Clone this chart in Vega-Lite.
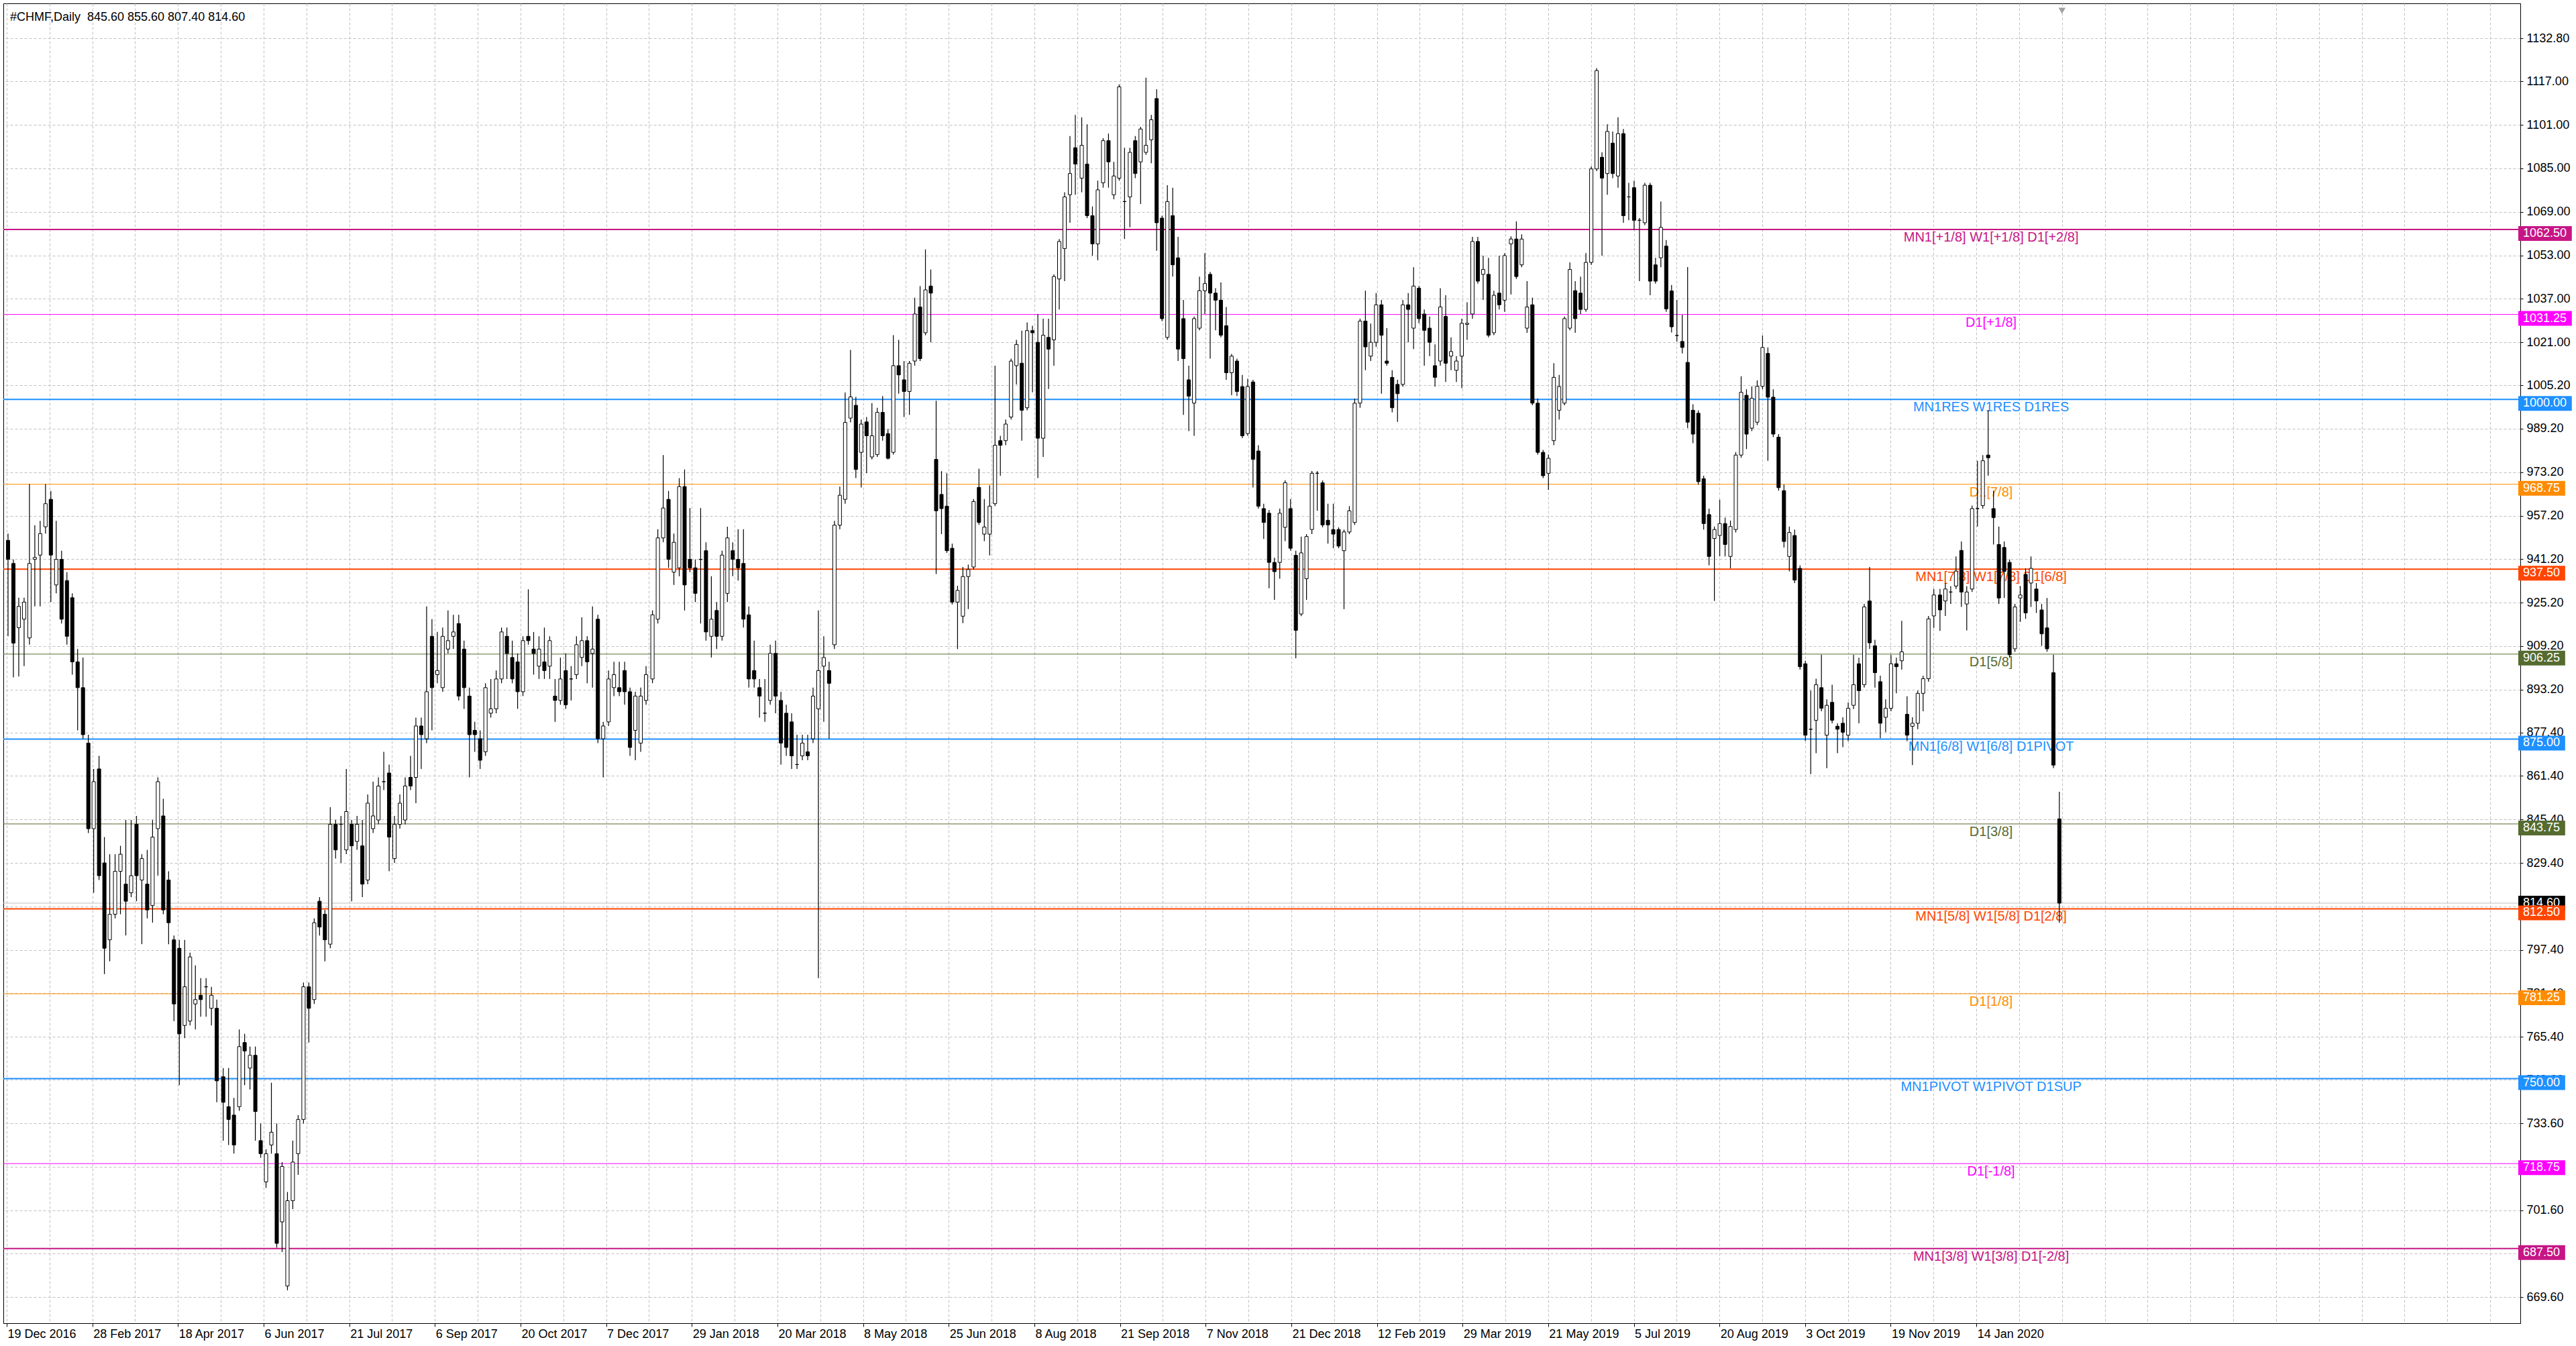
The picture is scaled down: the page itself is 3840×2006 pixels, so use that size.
{
  "$schema": "https://vega.github.io/schema/vega-lite/v6.json",
  "width": 3752,
  "height": 1967,
  "autosize": {"type": "none"},
  "padding": {"left": 5, "top": 5, "right": 83, "bottom": 34},
  "background": "white",
  "config": {
    "view": {"stroke": "black", "strokeWidth": 1},
    "axis": {"labelFont": "Liberation Sans", "labelFontSize": 18, "labelColor": "black", "tickColor": "black", "domainColor": "black", "gridColor": "#c0c0c0", "gridDash": [4, 3], "gridWidth": 1}
  },
  "datasets": {
    "levels": [
      {"p": 1062.5, "lv": "+2/8", "t": "MN1[+1/8] W1[+1/8] D1[+2/8]"},
      {"p": 1031.25, "lv": "+1/8", "t": "D1[+1/8]"},
      {"p": 1000, "lv": "8/8", "t": "MN1RES W1RES D1RES"},
      {"p": 968.75, "lv": "7/8", "t": "D1[7/8]"},
      {"p": 937.5, "lv": "6/8", "t": "MN1[7/8] W1[7/8] D1[6/8]"},
      {"p": 906.25, "lv": "5/8", "t": "D1[5/8]"},
      {"p": 875, "lv": "4/8", "t": "MN1[6/8] W1[6/8] D1PIVOT"},
      {"p": 843.75, "lv": "3/8", "t": "D1[3/8]"},
      {"p": 812.5, "lv": "2/8", "t": "MN1[5/8] W1[5/8] D1[2/8]"},
      {"p": 781.25, "lv": "1/8", "t": "D1[1/8]"},
      {"p": 750, "lv": "0/8", "t": "MN1PIVOT W1PIVOT D1SUP"},
      {"p": 718.75, "lv": "-1/8", "t": "D1[-1/8]"},
      {"p": 687.5, "lv": "-2/8", "t": "MN1[3/8] W1[3/8] D1[-2/8]"}
    ],
    "bars": [
      {"i":0.5,"o":948.1,"h":950.6,"l":912.8,"c":941.1},{"i":2.5,"o":939.6,"h":941.1,"l":897.7,"c":910.3},{"i":4.5,"o":916.0,"h":927.0,"l":898.0,"c":923.8},{"i":6.5,"o":919.1,"h":927.0,"l":901.8,"c":925.4},
      {"i":8.5,"o":912.2,"h":968.8,"l":909.7,"c":939.6},{"i":10.5,"o":941.1,"h":953.7,"l":923.8,"c":941.8},{"i":12.5,"o":942.7,"h":955.3,"l":923.8,"c":950.6},{"i":14.5,"o":953.1,"h":968.8,"l":950.6,"c":961.6},
      {"i":16.5,"o":963.2,"h":966.3,"l":925.4,"c":942.7},{"i":18.5,"o":931.7,"h":955.3,"l":928.6,"c":941.1},{"i":20.5,"o":941.1,"h":944.3,"l":917.5,"c":919.1},{"i":22.5,"o":933.3,"h":936.4,"l":909.7,"c":912.8},
      {"i":24.5,"o":927.0,"h":928.6,"l":898.7,"c":903.4},{"i":26.5,"o":903.4,"h":908.1,"l":878.2,"c":893.9},{"i":28.5,"o":893.9,"h":905.0,"l":875.1,"c":876.6},{"i":30.5,"o":873.5,"h":876.6,"l":840.4,"c":842.0},
      {"i":32.5,"o":842.0,"h":864.0,"l":818.4,"c":859.3},{"i":34.5,"o":864.0,"h":868.8,"l":823.1,"c":824.7},{"i":36.5,"o":829.4,"h":838.9,"l":788.5,"c":798.0},{"i":38.5,"o":801.1,"h":832.6,"l":793.2,"c":810.5},
      {"i":40.5,"o":810.5,"h":832.6,"l":809.0,"c":826.3},{"i":42.5,"o":826.3,"h":835.7,"l":810.5,"c":832.6},{"i":44.5,"o":821.6,"h":845.2,"l":802.7,"c":815.3},{"i":46.5,"o":818.4,"h":845.2,"l":816.8,"c":824.7},
      {"i":48.5,"o":843.6,"h":846.7,"l":815.3,"c":824.7},{"i":50.5,"o":823.1,"h":832.6,"l":799.5,"c":831.0},{"i":52.5,"o":821.6,"h":834.2,"l":809.0,"c":812.1},{"i":54.5,"o":813.7,"h":845.2,"l":807.4,"c":838.9},
      {"i":56.5,"o":842.0,"h":860.9,"l":824.7,"c":859.3},{"i":58.5,"o":846.7,"h":853.0,"l":810.5,"c":812.1},{"i":60.5,"o":823.1,"h":826.3,"l":799.5,"c":807.4},{"i":62.5,"o":801.1,"h":802.7,"l":771.2,"c":777.5},
      {"i":64.5,"o":798.0,"h":801.1,"l":747.6,"c":766.5},{"i":66.5,"o":769.6,"h":801.1,"l":764.9,"c":783.8},{"i":68.5,"o":771.2,"h":796.4,"l":769.6,"c":794.8},{"i":70.5,"o":777.5,"h":791.7,"l":768.1,"c":779.1},
      {"i":72.5,"o":780.7,"h":787.0,"l":772.8,"c":779.1},{"i":74.5,"o":783.8,"h":787.0,"l":772.8,"c":783.8},{"i":76.5,"o":775.9,"h":783.8,"l":769.6,"c":780.7},{"i":78.5,"o":775.9,"h":779.1,"l":741.3,"c":749.2},
      {"i":80.9,"o":750.7,"h":753.9,"l":727.2,"c":741.3},{"i":82.9,"o":739.7,"h":753.9,"l":725.6,"c":735.0},{"i":84.9,"o":736.6,"h":742.9,"l":722.4,"c":725.6},{"i":86.9,"o":739.7,"h":768.1,"l":738.2,"c":761.8},
      {"i":88.9,"o":763.3,"h":766.5,"l":747.6,"c":760.2},{"i":90.9,"o":753.9,"h":761.8,"l":746.0,"c":758.6},{"i":92.9,"o":758.6,"h":761.8,"l":727.2,"c":737.9},{"i":94.9,"o":727.2,"h":733.5,"l":720.9,"c":722.4},
      {"i":96.9,"o":712.0,"h":724.0,"l":709.8,"c":722.4},{"i":98.9,"o":725.6,"h":748.5,"l":722.4,"c":730.3},{"i":100.9,"o":722.4,"h":733.5,"l":687.8,"c":689.4},{"i":102.9,"o":697.3,"h":719.3,"l":686.2,"c":717.7},
      {"i":104.9,"o":673.7,"h":708.3,"l":672.1,"c":705.1},{"i":106.9,"o":705.1,"h":727.2,"l":702.0,"c":719.3},{"i":108.9,"o":722.4,"h":736.6,"l":714.6,"c":735.0},{"i":110.9,"o":735.0,"h":785.4,"l":733.5,"c":783.8},
      {"i":112.9,"o":783.8,"h":785.4,"l":763.3,"c":775.9},{"i":114.9,"o":779.1,"h":809.0,"l":777.5,"c":807.4},{"i":116.9,"o":815.3,"h":816.8,"l":802.7,"c":805.8},{"i":118.9,"o":810.5,"h":812.1,"l":793.2,"c":801.1},
      {"i":120.9,"o":799.5,"h":849.9,"l":798.0,"c":843.6},{"i":122.9,"o":843.6,"h":845.2,"l":831.0,"c":834.2},{"i":124.9,"o":843.6,"h":846.7,"l":829.4,"c":843.6},{"i":126.9,"o":834.2,"h":864.0,"l":832.6,"c":848.3},
      {"i":128.9,"o":843.6,"h":845.2,"l":815.3,"c":835.7},{"i":130.9,"o":837.3,"h":846.7,"l":834.2,"c":843.6},{"i":132.9,"o":835.7,"h":845.2,"l":816.8,"c":821.6},{"i":134.9,"o":823.1,"h":854.6,"l":821.6,"c":851.4},
      {"i":136.9,"o":842.0,"h":859.3,"l":840.4,"c":846.7},{"i":138.9,"o":845.2,"h":860.9,"l":843.6,"c":857.7},{"i":140.9,"o":859.3,"h":870.3,"l":856.2,"c":859.3},{"i":142.9,"o":862.5,"h":865.6,"l":826.3,"c":838.9},
      {"i":144.9,"o":831.0,"h":846.7,"l":829.4,"c":843.6},{"i":146.9,"o":843.6,"h":854.6,"l":842.0,"c":851.4},{"i":148.9,"o":845.2,"h":860.9,"l":843.6,"c":857.7},{"i":150.9,"o":860.9,"h":868.8,"l":856.2,"c":857.7},
      {"i":152.9,"o":860.9,"h":882.9,"l":851.4,"c":879.8},{"i":154.9,"o":879.8,"h":882.9,"l":864.0,"c":876.6},{"i":156.9,"o":875.1,"h":923.8,"l":873.5,"c":892.4},{"i":158.9,"o":912.8,"h":919.1,"l":878.2,"c":893.9},
      {"i":160.9,"o":898.7,"h":914.4,"l":895.5,"c":900.2},{"i":162.9,"o":893.9,"h":916.0,"l":892.4,"c":912.8},{"i":164.9,"o":908.1,"h":922.3,"l":906.5,"c":911.2},{"i":166.9,"o":912.8,"h":920.7,"l":908.1,"c":914.4},
      {"i":168.9,"o":917.5,"h":920.7,"l":889.2,"c":890.8},{"i":170.9,"o":908.1,"h":911.2,"l":886.1,"c":893.9},{"i":172.9,"o":890.8,"h":893.9,"l":860.9,"c":876.6},{"i":174.9,"o":878.2,"h":881.3,"l":870.3,"c":876.6},
      {"i":176.9,"o":875.1,"h":878.2,"l":864.0,"c":867.2},{"i":178.9,"o":870.3,"h":895.5,"l":868.8,"c":893.9},{"i":180.9,"o":884.5,"h":897.1,"l":882.9,"c":886.1},{"i":182.9,"o":886.1,"h":900.2,"l":884.5,"c":897.1},
      {"i":184.9,"o":897.1,"h":916.0,"l":895.5,"c":914.4},{"i":186.9,"o":912.8,"h":916.0,"l":897.1,"c":906.5},{"i":188.9,"o":905.0,"h":911.2,"l":895.5,"c":897.1},{"i":190.9,"o":903.4,"h":906.5,"l":886.1,"c":892.4},
      {"i":192.9,"o":892.4,"h":912.8,"l":890.8,"c":911.2},{"i":194.9,"o":912.8,"h":930.1,"l":909.7,"c":911.2},{"i":196.9,"o":908.1,"h":914.4,"l":898.7,"c":906.5},{"i":198.9,"o":901.8,"h":912.8,"l":897.1,"c":908.1},
      {"i":200.9,"o":903.4,"h":916.0,"l":897.1,"c":900.2},{"i":202.9,"o":901.8,"h":912.8,"l":897.1,"c":911.2},{"i":204.9,"o":890.8,"h":897.1,"l":881.3,"c":889.2},{"i":206.9,"o":889.2,"h":905.0,"l":887.6,"c":897.1},
      {"i":208.9,"o":900.2,"h":906.5,"l":886.1,"c":887.6},{"i":210.9,"o":897.1,"h":901.8,"l":889.2,"c":897.1},{"i":212.9,"o":898.7,"h":912.8,"l":897.1,"c":909.7},{"i":214.9,"o":905.0,"h":919.8,"l":901.8,"c":911.2},
      {"i":216.9,"o":911.2,"h":912.8,"l":895.5,"c":903.4},{"i":218.9,"o":906.5,"h":923.8,"l":893.9,"c":908.1},{"i":220.9,"o":919.1,"h":920.7,"l":873.5,"c":875.1},{"i":222.9,"o":875.1,"h":881.3,"l":860.9,"c":879.8},
      {"i":224.9,"o":881.3,"h":900.2,"l":879.8,"c":897.1},{"i":226.9,"o":893.9,"h":903.4,"l":890.8,"c":898.7},{"i":228.9,"o":893.9,"h":903.4,"l":890.8,"c":892.4},{"i":230.9,"o":900.2,"h":903.4,"l":887.6,"c":892.4},
      {"i":232.9,"o":892.4,"h":893.9,"l":868.8,"c":871.9},{"i":234.9,"o":878.2,"h":892.4,"l":867.2,"c":890.8},{"i":236.9,"o":873.5,"h":893.9,"l":870.3,"c":890.8},{"i":238.9,"o":889.2,"h":901.8,"l":887.6,"c":898.7},
      {"i":241.3,"o":897.1,"h":922.3,"l":895.5,"c":920.7},{"i":243.3,"o":919.1,"h":952.2,"l":917.5,"c":949.0},{"i":245.3,"o":949.0,"h":979.5,"l":947.4,"c":960.0},{"i":247.3,"o":963.2,"h":966.3,"l":938.0,"c":941.1},
      {"i":249.3,"o":936.4,"h":950.6,"l":931.7,"c":947.4},{"i":251.3,"o":938.0,"h":971.0,"l":934.9,"c":967.9},{"i":253.3,"o":967.9,"h":974.2,"l":922.3,"c":931.7},{"i":255.3,"o":941.1,"h":960.0,"l":936.4,"c":938.0},
      {"i":257.3,"o":938.0,"h":941.1,"l":925.4,"c":928.6},{"i":259.3,"o":941.1,"h":960.0,"l":917.5,"c":941.1},{"i":261.3,"o":944.3,"h":947.4,"l":911.2,"c":914.4},{"i":263.3,"o":912.8,"h":934.9,"l":905.0,"c":919.1},
      {"i":265.3,"o":922.3,"h":925.4,"l":908.1,"c":912.8},{"i":267.3,"o":912.8,"h":944.3,"l":911.2,"c":942.7},{"i":269.3,"o":928.6,"h":953.1,"l":925.4,"c":949.0},{"i":271.3,"o":944.3,"h":947.4,"l":934.9,"c":941.1},
      {"i":273.3,"o":941.1,"h":952.2,"l":933.3,"c":938.0},{"i":275.3,"o":939.6,"h":952.2,"l":916.0,"c":919.1},{"i":277.3,"o":920.7,"h":923.8,"l":893.9,"c":897.1},{"i":279.3,"o":900.2,"h":911.2,"l":893.9,"c":897.1},
      {"i":281.3,"o":893.9,"h":897.1,"l":882.9,"c":890.8},{"i":283.3,"o":884.5,"h":897.1,"l":881.3,"c":884.5},{"i":285.3,"o":889.2,"h":909.7,"l":887.6,"c":906.5},{"i":287.3,"o":906.5,"h":911.2,"l":884.5,"c":890.8},
      {"i":289.3,"o":889.2,"h":892.4,"l":865.6,"c":873.5},{"i":291.3,"o":884.5,"h":887.6,"l":868.8,"c":871.9},{"i":293.3,"o":881.3,"h":884.5,"l":864.0,"c":868.8},{"i":295.3,"o":865.6,"h":876.6,"l":864.0,"c":865.6},
      {"i":297.3,"o":868.8,"h":876.6,"l":867.2,"c":873.5},{"i":299.3,"o":870.3,"h":876.6,"l":867.2,"c":868.8},{"i":301.3,"o":875.1,"h":893.9,"l":873.5,"c":890.8},{"i":303.3,"o":886.1,"h":922.3,"l":787.0,"c":900.2},
      {"i":305.3,"o":901.8,"h":912.8,"l":881.3,"c":905.0},{"i":307.3,"o":900.2,"h":903.4,"l":875.1,"c":895.5},{"i":309.3,"o":909.7,"h":955.3,"l":908.1,"c":953.7},{"i":311.3,"o":953.7,"h":967.9,"l":952.2,"c":964.7},
      {"i":313.3,"o":963.2,"h":1002.5,"l":961.6,"c":991.5},{"i":315.3,"o":993.1,"h":1018.2,"l":991.5,"c":1000.9},{"i":317.3,"o":997.8,"h":1000.9,"l":971.0,"c":974.2},{"i":319.3,"o":980.5,"h":992.6,"l":967.6,"c":990.9},
      {"i":321.3,"o":991.7,"h":993.5,"l":972.8,"c":986.6},{"i":323.3,"o":978.8,"h":998.6,"l":977.9,"c":986.6},{"i":325.3,"o":979.7,"h":996.9,"l":978.8,"c":995.2},{"i":327.3,"o":995.2,"h":1001.2,"l":984.8,"c":986.6},
      {"i":329.3,"o":987.4,"h":989.1,"l":977.9,"c":978.3},{"i":331.3,"o":980.5,"h":1023.6,"l":979.7,"c":1012.4},{"i":333.3,"o":1012.4,"h":1021.9,"l":1002.1,"c":1009.0},{"i":335.3,"o":1007.2,"h":1014.1,"l":993.5,"c":1002.9},
      {"i":337.3,"o":1002.9,"h":1014.1,"l":994.3,"c":1013.3},{"i":339.3,"o":1014.1,"h":1037.4,"l":1012.4,"c":1031.4},{"i":341.3,"o":1034.0,"h":1041.7,"l":1014.1,"c":1015.0},{"i":343.3,"o":1024.5,"h":1055.2,"l":1023.6,"c":1040.3},
      {"i":345.3,"o":1041.7,"h":1047.8,"l":1021.0,"c":1039.1},{"i":347.3,"o":977.9,"h":999.5,"l":935.7,"c":959.0},{"i":349.3,"o":965.0,"h":973.6,"l":950.4,"c":959.8},{"i":351.3,"o":960.7,"h":972.8,"l":943.5,"c":944.3},
      {"i":353.3,"o":945.2,"h":946.9,"l":924.5,"c":925.4},{"i":355.3,"o":925.4,"h":931.4,"l":908.1,"c":929.7},{"i":357.3,"o":920.2,"h":938.3,"l":917.6,"c":934.8},{"i":359.3,"o":934.8,"h":939.2,"l":922.8,"c":937.4},
      {"i":361.3,"o":938.3,"h":963.3,"l":937.4,"c":962.4},{"i":363.3,"o":967.6,"h":974.5,"l":953.8,"c":954.7},{"i":365.3,"o":950.4,"h":963.3,"l":947.8,"c":953.0},{"i":367.3,"o":950.4,"h":968.4,"l":942.6,"c":960.7},
      {"i":369.3,"o":961.6,"h":1012.4,"l":960.7,"c":983.1},{"i":371.3,"o":984.8,"h":986.6,"l":971.9,"c":983.1},{"i":373.3,"o":984.8,"h":992.6,"l":983.1,"c":990.9},{"i":375.3,"o":993.5,"h":1015.0,"l":992.6,"c":1014.1},
      {"i":377.3,"o":1012.4,"h":1021.9,"l":1005.5,"c":1020.2},{"i":379.3,"o":1013.3,"h":1025.3,"l":984.8,"c":996.0},{"i":381.3,"o":996.9,"h":1028.3,"l":996.0,"c":1025.3},{"i":383.3,"o":1025.3,"h":1027.1,"l":1002.6,"c":1024.5},
      {"i":385.3,"o":1021.0,"h":1031.4,"l":971.0,"c":985.7},{"i":387.3,"o":985.7,"h":1029.7,"l":978.8,"c":1023.6},{"i":389.3,"o":1022.8,"h":1029.7,"l":1003.8,"c":1018.5},{"i":391.3,"o":1021.9,"h":1046.0,"l":1012.4,"c":1045.2},
      {"i":393.3,"o":1044.3,"h":1059.0,"l":1033.1,"c":1058.1},{"i":395.3,"o":1055.5,"h":1076.2,"l":1043.5,"c":1074.5},{"i":397.3,"o":1075.3,"h":1096.9,"l":1065.0,"c":1083.1},{"i":399.3,"o":1092.6,"h":1104.7,"l":1075.3,"c":1086.6},
      {"i":401.7,"o":1081.4,"h":1103.8,"l":1076.2,"c":1093.5},{"i":403.7,"o":1086.6,"h":1101.2,"l":1066.7,"c":1067.6},{"i":405.7,"o":1067.6,"h":1071.0,"l":1052.9,"c":1057.2},{"i":407.7,"o":1057.2,"h":1080.5,"l":1051.2,"c":1077.1},
      {"i":409.7,"o":1079.7,"h":1096.1,"l":1077.9,"c":1095.2},{"i":411.7,"o":1095.2,"h":1097.8,"l":1077.9,"c":1087.4},{"i":413.7,"o":1075.3,"h":1087.4,"l":1073.6,"c":1082.2},{"i":415.7,"o":1081.4,"h":1115.9,"l":1080.5,"c":1115.0},
      {"i":417.7,"o":1072.8,"h":1092.6,"l":1059.0,"c":1072.8},{"i":419.7,"o":1074.5,"h":1092.6,"l":1063.3,"c":1090.9},{"i":421.7,"o":1095.2,"h":1096.9,"l":1081.4,"c":1083.1},{"i":423.7,"o":1087.4,"h":1100.3,"l":1071.9,"c":1099.5},
      {"i":425.7,"o":1090.9,"h":1118.4,"l":1090.0,"c":1093.5},{"i":427.7,"o":1095.5,"h":1104.7,"l":1086.9,"c":1102.9},{"i":429.7,"o":1110.7,"h":1114.1,"l":1054.7,"c":1065.0},{"i":431.7,"o":1066.7,"h":1067.6,"l":1028.8,"c":1029.7},
      {"i":433.7,"o":1022.8,"h":1078.8,"l":1021.9,"c":1072.8},{"i":435.7,"o":1067.6,"h":1077.9,"l":1045.2,"c":1049.5},{"i":437.7,"o":1052.1,"h":1059.8,"l":1014.1,"c":1018.5},{"i":439.7,"o":1029.7,"h":1036.6,"l":994.3,"c":1015.0},
      {"i":441.7,"o":1007.2,"h":1012.4,"l":988.3,"c":1001.2},{"i":443.7,"o":998.6,"h":1030.5,"l":986.6,"c":1029.7},{"i":445.7,"o":1026.2,"h":1045.2,"l":1025.4,"c":1040.0},{"i":447.7,"o":1040.0,"h":1053.8,"l":1031.4,"c":1042.6},
      {"i":449.7,"o":1046.0,"h":1046.9,"l":1015.0,"c":1039.1},{"i":451.7,"o":1039.1,"h":1040.9,"l":1025.4,"c":1036.5},{"i":453.7,"o":1036.5,"h":1043.1,"l":1022.8,"c":1023.6},{"i":455.7,"o":1027.1,"h":1034.0,"l":1007.2,"c":1009.8},
      {"i":457.7,"o":1009.8,"h":1016.7,"l":1001.5,"c":1015.9},{"i":459.7,"o":1014.1,"h":1015.0,"l":1001.2,"c":1002.9},{"i":461.7,"o":1004.7,"h":1009.0,"l":985.7,"c":986.6},{"i":463.7,"o":987.4,"h":1007.6,"l":986.6,"c":1004.7},
      {"i":465.7,"o":1006.4,"h":1007.2,"l":967.6,"c":977.9},{"i":467.7,"o":981.0,"h":983.1,"l":959.8,"c":960.7},{"i":469.7,"o":959.8,"h":961.6,"l":948.6,"c":954.7},{"i":471.7,"o":958.1,"h":959.3,"l":930.5,"c":940.0},
      {"i":473.7,"o":940.0,"h":941.7,"l":926.2,"c":936.6},{"i":475.7,"o":940.0,"h":959.8,"l":934.0,"c":958.1},{"i":477.7,"o":952.9,"h":970.2,"l":947.8,"c":969.3},{"i":479.7,"o":959.8,"h":963.3,"l":944.3,"c":945.2},
      {"i":481.7,"o":942.6,"h":944.3,"l":904.7,"c":915.0},{"i":483.7,"o":921.0,"h":949.5,"l":920.2,"c":943.5},{"i":485.7,"o":934.0,"h":950.4,"l":926.2,"c":949.5},{"i":487.7,"o":952.1,"h":973.6,"l":950.4,"c":972.8},
      {"i":489.7,"o":972.8,"h":973.6,"l":959.0,"c":972.8},{"i":491.7,"o":969.3,"h":970.2,"l":952.9,"c":953.8},{"i":493.7,"o":955.5,"h":961.6,"l":946.9,"c":953.8},{"i":495.7,"o":952.1,"h":961.6,"l":945.2,"c":950.4},
      {"i":497.7,"o":952.1,"h":952.9,"l":945.2,"c":946.0},{"i":499.7,"o":944.3,"h":952.1,"l":922.8,"c":951.2},{"i":501.7,"o":951.2,"h":960.7,"l":950.4,"c":959.0},{"i":503.7,"o":954.7,"h":1000.3,"l":953.8,"c":998.6},
      {"i":505.7,"o":998.6,"h":1029.7,"l":996.9,"c":1028.8},{"i":507.7,"o":1028.8,"h":1040.0,"l":1010.7,"c":1019.3},{"i":509.7,"o":1015.9,"h":1027.9,"l":1014.1,"c":1021.0},{"i":511.7,"o":1021.0,"h":1039.1,"l":1019.3,"c":1034.8},
      {"i":513.7,"o":1034.8,"h":1036.6,"l":1002.1,"c":1023.6},{"i":515.7,"o":1014.1,"h":1026.2,"l":1012.4,"c":1013.3},{"i":517.7,"o":1008.1,"h":1010.7,"l":995.2,"c":996.9},{"i":519.7,"o":1005.5,"h":1007.2,"l":991.7,"c":1002.1},
      {"i":521.7,"o":1005.5,"h":1036.6,"l":1004.7,"c":1034.8},{"i":523.7,"o":1034.8,"h":1039.1,"l":1021.0,"c":1033.1},{"i":525.7,"o":1026.2,"h":1048.6,"l":1018.5,"c":1041.7},{"i":527.7,"o":1040.9,"h":1041.7,"l":1028.0,"c":1029.7},
      {"i":529.7,"o":1031.4,"h":1033.1,"l":1012.4,"c":1025.4},{"i":531.7,"o":1026.2,"h":1030.5,"l":1015.9,"c":1021.0},{"i":533.7,"o":1012.4,"h":1020.2,"l":1004.7,"c":1008.1},{"i":535.7,"o":1014.1,"h":1040.9,"l":1012.4,"c":1034.0},
      {"i":537.7,"o":1030.5,"h":1038.3,"l":1006.4,"c":1013.3},{"i":539.7,"o":1015.9,"h":1022.8,"l":1010.7,"c":1017.6},{"i":541.7,"o":1010.7,"h":1015.9,"l":1006.4,"c":1014.1},{"i":543.7,"o":1015.9,"h":1029.7,"l":1004.1,"c":1028.0},
      {"i":545.7,"o":1027.6,"h":1035.7,"l":1021.9,"c":1028.0},{"i":547.7,"o":1031.4,"h":1059.8,"l":1029.7,"c":1058.1},{"i":549.7,"o":1058.1,"h":1059.8,"l":1042.6,"c":1043.5},{"i":551.7,"o":1046.0,"h":1052.9,"l":1036.6,"c":1047.8},
      {"i":553.7,"o":1046.0,"h":1052.1,"l":1022.8,"c":1023.6},{"i":555.7,"o":1024.5,"h":1040.0,"l":1023.6,"c":1038.3},{"i":557.7,"o":1039.1,"h":1052.9,"l":1033.1,"c":1034.8},{"i":559.7,"o":1036.5,"h":1053.8,"l":1032.2,"c":1052.9},
      {"i":562.1,"o":1057.2,"h":1060.0,"l":1038.6,"c":1059.0},{"i":564.1,"o":1059.0,"h":1065.5,"l":1044.3,"c":1045.2},{"i":566.1,"o":1049.5,"h":1060.7,"l":1048.6,"c":1059.0},{"i":568.1,"o":1026.2,"h":1043.5,"l":1024.5,"c":1034.0},
      {"i":570.1,"o":1034.8,"h":1037.4,"l":997.8,"c":998.6},{"i":572.1,"o":998.6,"h":1000.3,"l":979.7,"c":980.5},{"i":574.1,"o":980.5,"h":981.4,"l":971.0,"c":971.9},{"i":576.1,"o":972.8,"h":979.7,"l":966.7,"c":978.3},
      {"i":578.1,"o":984.8,"h":1013.3,"l":983.1,"c":1008.1},{"i":580.1,"o":996.0,"h":1009.0,"l":992.6,"c":1004.7},{"i":582.1,"o":998.6,"h":1030.5,"l":997.8,"c":1029.7},{"i":584.1,"o":1026.2,"h":1050.4,"l":1025.4,"c":1047.8},
      {"i":586.1,"o":1040.0,"h":1043.5,"l":1024.5,"c":1029.7},{"i":588.1,"o":1039.1,"h":1045.2,"l":1031.4,"c":1033.1},{"i":590.1,"o":1033.1,"h":1053.8,"l":1032.2,"c":1050.4},{"i":592.1,"o":1050.4,"h":1085.7,"l":1049.5,"c":1084.8},
      {"i":594.1,"o":1084.8,"h":1121.9,"l":1084.0,"c":1121.0},{"i":596.1,"o":1089.1,"h":1090.9,"l":1052.9,"c":1081.4},{"i":598.1,"o":1083.1,"h":1101.2,"l":1075.3,"c":1098.6},{"i":600.1,"o":1094.3,"h":1098.6,"l":1081.4,"c":1083.1},
      {"i":602.1,"o":1082.2,"h":1103.8,"l":1077.9,"c":1097.8},{"i":604.1,"o":1097.8,"h":1099.5,"l":1065.0,"c":1067.6},{"i":606.1,"o":1074.5,"h":1079.7,"l":1065.9,"c":1074.5},{"i":608.1,"o":1077.9,"h":1080.5,"l":1062.4,"c":1065.9},
      {"i":610.1,"o":1065.9,"h":1066.7,"l":1043.5,"c":1065.9},{"i":612.1,"o":1065.0,"h":1079.7,"l":1064.1,"c":1078.8},{"i":614.1,"o":1078.8,"h":1079.7,"l":1038.3,"c":1043.5},{"i":616.1,"o":1049.5,"h":1052.1,"l":1042.6,"c":1043.5},
      {"i":618.1,"o":1052.1,"h":1072.8,"l":1048.6,"c":1063.3},{"i":620.1,"o":1056.4,"h":1058.6,"l":1032.2,"c":1033.3},{"i":622.1,"o":1039.9,"h":1042.1,"l":1024.6,"c":1026.7},{"i":624.1,"o":1023.5,"h":1036.6,"l":1021.3,"c":1023.5},
      {"i":626.1,"o":1021.3,"h":1031.1,"l":1016.9,"c":1019.1},{"i":628.1,"o":1013.6,"h":1048.7,"l":989.4,"c":991.6},{"i":630.1,"o":996.0,"h":998.2,"l":983.9,"c":987.2},{"i":632.1,"o":994.9,"h":996.0,"l":968.6,"c":969.7},
      {"i":634.1,"o":970.8,"h":971.9,"l":952.1,"c":954.3},{"i":636.1,"o":957.6,"h":959.8,"l":938.9,"c":942.2},{"i":638.1,"o":948.8,"h":953.2,"l":925.8,"c":952.1},{"i":640.1,"o":949.9,"h":963.1,"l":942.2,"c":954.3},
      {"i":642.1,"o":954.3,"h":956.5,"l":942.2,"c":946.6},{"i":644.1,"o":942.2,"h":955.4,"l":937.8,"c":953.2},{"i":646.1,"o":952.1,"h":980.6,"l":951.0,"c":979.5},{"i":648.1,"o":979.5,"h":1008.5,"l":978.5,"c":1002.6},
      {"i":650.1,"o":1001.5,"h":1003.7,"l":981.7,"c":987.2},{"i":652.1,"o":989.4,"h":1004.8,"l":988.3,"c":1000.4},{"i":654.1,"o":991.6,"h":1007.0,"l":990.5,"c":1004.8},{"i":656.1,"o":1004.8,"h":1023.5,"l":1003.7,"c":1019.1},
      {"i":658.1,"o":1016.9,"h":1019.1,"l":977.4,"c":1000.8},{"i":660.1,"o":1000.8,"h":1003.7,"l":986.1,"c":987.2},{"i":662.1,"o":986.1,"h":987.2,"l":966.4,"c":967.5},{"i":664.1,"o":966.4,"h":968.6,"l":945.5,"c":947.7},
      {"i":666.1,"o":942.2,"h":953.2,"l":936.7,"c":951.0},{"i":668.1,"o":949.9,"h":952.1,"l":932.4,"c":933.5},{"i":670.1,"o":937.8,"h":938.9,"l":900.5,"c":901.6},{"i":672.1,"o":902.7,"h":903.8,"l":874.3,"c":876.4},
      {"i":674.1,"o":878.6,"h":892.8,"l":862.1,"c":878.6},{"i":676.1,"o":881.9,"h":897.2,"l":869.8,"c":895.0},{"i":678.1,"o":893.9,"h":906.0,"l":885.2,"c":886.3},{"i":680.1,"o":876.4,"h":889.6,"l":864.3,"c":887.4},
      {"i":682.1,"o":888.5,"h":895.0,"l":880.8,"c":881.9},{"i":684.1,"o":879.7,"h":880.8,"l":869.8,"c":878.6},{"i":686.1,"o":880.8,"h":883.0,"l":872.0,"c":877.5},{"i":688.1,"o":876.4,"h":888.5,"l":874.2,"c":886.3},
      {"i":690.1,"o":887.4,"h":906.0,"l":886.0,"c":895.0},{"i":692.1,"o":902.7,"h":904.9,"l":880.8,"c":892.8},{"i":694.1,"o":895.0,"h":924.7,"l":893.9,"c":923.6},{"i":696.1,"o":925.8,"h":938.3,"l":908.2,"c":910.4},
      {"i":698.1,"o":909.3,"h":911.5,"l":893.9,"c":899.4},{"i":700.1,"o":896.1,"h":898.3,"l":875.3,"c":880.8},{"i":702.1,"o":883.0,"h":889.6,"l":877.5,"c":886.3},{"i":704.1,"o":886.3,"h":906.0,"l":885.2,"c":902.7},
      {"i":706.1,"o":902.7,"h":904.9,"l":891.8,"c":901.6},{"i":708.1,"o":903.8,"h":918.5,"l":900.5,"c":907.1},{"i":710.1,"o":884.1,"h":890.7,"l":874.2,"c":876.4},{"i":712.1,"o":879.7,"h":883.0,"l":865.4,"c":880.8},
      {"i":714.1,"o":880.8,"h":892.8,"l":878.6,"c":891.8},{"i":716.1,"o":891.8,"h":898.3,"l":885.2,"c":897.2},{"i":718.1,"o":897.2,"h":920.3,"l":896.1,"c":919.2},{"i":720.1,"o":920.3,"h":930.2,"l":915.9,"c":928.0},
      {"i":722.4,"o":928.0,"h":930.2,"l":914.8,"c":922.5},{"i":724.4,"o":925.8,"h":932.4,"l":920.3,"c":930.2},{"i":726.4,"o":929.1,"h":931.3,"l":924.7,"c":929.1},{"i":728.4,"o":931.3,"h":942.2,"l":930.2,"c":936.8},
      {"i":730.4,"o":944.4,"h":947.7,"l":923.6,"c":929.1},{"i":732.4,"o":924.7,"h":931.3,"l":915.0,"c":929.1},{"i":734.4,"o":930.2,"h":960.9,"l":929.1,"c":959.8},{"i":736.4,"o":959.8,"h":977.4,"l":953.2,"c":959.8},
      {"i":738.4,"o":960.9,"h":979.5,"l":959.8,"c":977.4},{"i":740.4,"o":979.5,"h":996.0,"l":971.9,"c":978.5},{"i":742.4,"o":959.8,"h":966.4,"l":946.6,"c":956.5},{"i":744.4,"o":946.6,"h":953.2,"l":924.7,"c":926.9},
      {"i":746.4,"o":945.5,"h":947.7,"l":926.9,"c":936.7},{"i":748.4,"o":940.0,"h":941.1,"l":904.9,"c":906.0},{"i":750.4,"o":908.2,"h":924.7,"l":907.1,"c":923.6},{"i":752.4,"o":926.9,"h":931.3,"l":918.1,"c":928.0},
      {"i":754.4,"o":935.6,"h":937.8,"l":919.2,"c":921.4},{"i":756.4,"o":932.4,"h":942.2,"l":923.6,"c":937.8},{"i":758.4,"o":930.2,"h":932.4,"l":921.4,"c":925.8},{"i":760.4,"o":922.5,"h":924.7,"l":909.3,"c":913.7},
      {"i":762.4,"o":915.9,"h":926.9,"l":907.1,"c":908.2},{"i":764.8,"o":899.4,"h":906.0,"l":864.3,"c":865.4},{"i":767.0,"o":845.6,"h":855.6,"l":807.4,"c":814.6}
    ]
  },
  "layer": [
    {
      "data": {"name": "levels"},
      "mark": {"type": "rule"},
      "encoding": {
        "y": {
          "field": "p", "type": "quantitative", "title": null,
          "scale": {"domain": [661.25, 1144.5], "nice": false, "zero": false},
          "axis": {
            "orient": "right", "title": null,
            "values": [669.6, 685.6, 701.6, 717.6, 733.6, 749.6, 765.4, 781.4, 797.4, 813.4, 829.4, 845.4, 861.4, 877.4, 893.2, 909.2, 925.2, 941.2, 957.2, 973.2, 989.2, 1005.2, 1021, 1037, 1053, 1069, 1085, 1101, 1117, 1132.8],
            "format": ".2f", "labelAlign": "left", "labelBaseline": "middle", "labelPadding": 5, "tickSize": 4,
            "labelOverlap": false, "labelFlush": false, "grid": true
          }
        },
        "color": {
          "field": "lv", "type": "nominal", "legend": null,
          "scale": {
            "domain": ["+2/8", "+1/8", "8/8", "7/8", "6/8", "5/8", "4/8", "3/8", "2/8", "1/8", "0/8", "-1/8", "-2/8"],
            "range": ["#c71585", "#ff00ff", "#1e90ff", "#ff8c00", "#ff4500", "#556b2f", "#1e90ff", "#556b2f", "#ff4500", "#ff8c00", "#1e90ff", "#ff00ff", "#c71585"]
          }
        },
        "strokeWidth": {"condition": {"test": "indexof(datum.t, 'MN1') >= 0", "value": 2}, "value": 1}
      }
    },
    {
      "data": {"values": [{"p": 814.6}]},
      "mark": {"type": "rule", "color": "#c0c0c0", "strokeWidth": 1},
      "encoding": {
        "y": {"field": "p", "type": "quantitative", "title": null, "scale": {"domain": [661.25, 1144.5], "nice": false, "zero": false}}
      }
    },
    {
      "data": {"name": "levels"},
      "mark": {"type": "text", "align": "center", "baseline": "middle", "dy": 12, "font": "Liberation Sans", "fontSize": 20},
      "encoding": {
        "x": {"datum": 741.5, "scale": {"domain": [0, 938], "nice": false, "zero": false}},
        "y": {"field": "p", "type": "quantitative", "title": null, "scale": {"domain": [661.25, 1144.5], "nice": false, "zero": false}},
        "text": {"field": "t"},
        "color": {"field": "lv", "type": "nominal", "legend": null}
      }
    },
    {
      "data": {"name": "bars"},
      "mark": {"type": "rule", "color": "black", "strokeWidth": 1.2, "clip": true},
      "encoding": {
        "x": {
          "field": "i", "type": "quantitative", "title": null,
          "scale": {"domain": [0, 938], "nice": false, "zero": false},
          "axis": {
            "orient": "bottom", "title": null,
            "values": [0, 16, 32, 48, 64, 80, 96, 112, 128, 144, 160, 176, 192, 208, 224, 240, 256, 272, 288, 304, 320, 336, 352, 368, 384, 400, 416, 432, 448, 464, 480, 496, 512, 528, 544, 560, 576, 592, 608, 624, 640, 656, 672, 688, 704, 720, 736, 752, 768, 784, 800, 816, 832, 848, 864, 880, 896, 912, 928],
            "labelExpr": "datum.value % 32 === 0 && datum.value <= 736 ? ['19 Dec 2016','28 Feb 2017','18 Apr 2017','6 Jun 2017','21 Jul 2017','6 Sep 2017','20 Oct 2017','7 Dec 2017','29 Jan 2018','20 Mar 2018','8 May 2018','25 Jun 2018','8 Aug 2018','21 Sep 2018','7 Nov 2018','21 Dec 2018','12 Feb 2019','29 Mar 2019','21 May 2019','5 Jul 2019','20 Aug 2019','3 Oct 2019','19 Nov 2019','14 Jan 2020'][datum.value / 32] : ''",
            "labelAlign": "left", "labelBaseline": "top", "labelPadding": 2, "labelOffset": 1, "tickSize": 5,
            "tickOpacity": {"condition": {"test": "datum.value % 32 === 0 && datum.value <= 736", "value": 1}, "value": 0},
            "labelOverlap": false, "labelFlush": false, "labelBound": false, "grid": true
          }
        },
        "y": {"field": "l", "type": "quantitative", "title": null, "scale": {"domain": [661.25, 1144.5], "nice": false, "zero": false}},
        "y2": {"field": "h"}
      }
    },
    {
      "data": {"name": "bars"},
      "mark": {"type": "bar", "orient": "vertical", "width": 5, "stroke": "black", "strokeWidth": 1, "clip": true},
      "encoding": {
        "x": {"field": "i", "type": "quantitative", "title": null, "scale": {"domain": [0, 938], "nice": false, "zero": false}},
        "y": {"field": "o", "type": "quantitative", "title": null, "scale": {"domain": [661.25, 1144.5], "nice": false, "zero": false}},
        "y2": {"field": "c"},
        "fill": {"condition": {"test": "datum.c < datum.o", "value": "black"}, "value": "white"}
      }
    },
    {
      "data": {"values": [{"t": "#CHMF,Daily\u00a0 845.60 855.60 807.40 814.60"}]},
      "mark": {"type": "text", "align": "left", "baseline": "middle", "font": "Liberation Sans", "fontSize": 18, "color": "black"},
      "encoding": {
        "x": {"datum": 1.25, "scale": {"domain": [0, 938], "nice": false, "zero": false}},
        "y": {"datum": 1140.6, "scale": {"domain": [661.25, 1144.5], "nice": false, "zero": false}},
        "text": {"field": "t"}
      }
    },
    {
      "data": {"values": [{"m": "shift"}]},
      "mark": {"type": "point", "shape": "triangle-down", "filled": true, "color": "#a0a0a0", "size": 110, "opacity": 1},
      "encoding": {
        "x": {"datum": 768, "scale": {"domain": [0, 938], "nice": false, "zero": false}},
        "y": {"datum": 1143, "scale": {"domain": [661.25, 1144.5], "nice": false, "zero": false}}
      }
    },
    {
      "data": {"values": [{"p": 814.6}]},
      "layer": [
        {
          "mark": {"type": "bar", "orient": "horizontal", "size": 22, "color": "black"},
          "encoding": {
            "x": {"datum": 938.5, "scale": {"domain": [0, 938], "nice": false, "zero": false}},
            "x2": {"datum": 956},
            "y": {"field": "p", "type": "quantitative", "title": null, "scale": {"domain": [661.25, 1144.5], "nice": false, "zero": false}}
          }
        },
        {
          "mark": {"type": "text", "align": "left", "baseline": "middle", "font": "Liberation Sans", "fontSize": 18, "color": "white"},
          "encoding": {
            "x": {"datum": 940.25, "scale": {"domain": [0, 938], "nice": false, "zero": false}},
            "y": {"field": "p", "type": "quantitative", "title": null, "scale": {"domain": [661.25, 1144.5], "nice": false, "zero": false}},
            "text": {"field": "p", "type": "quantitative", "format": ".2f"}
          }
        }
      ]
    },
    {
      "data": {"name": "levels"},
      "transform": [{"filter": "datum.p < 1000"}],
      "mark": {"type": "bar", "orient": "horizontal", "size": 22, "yOffset": 6},
      "encoding": {
        "x": {"datum": 938.5, "scale": {"domain": [0, 938], "nice": false, "zero": false}},
        "x2": {"datum": 956},
        "y": {"field": "p", "type": "quantitative", "title": null, "scale": {"domain": [661.25, 1144.5], "nice": false, "zero": false}},
        "color": {"field": "lv", "type": "nominal", "legend": null}
      }
    },
    {
      "data": {"name": "levels"},
      "transform": [{"filter": "datum.p >= 1000"}],
      "mark": {"type": "bar", "orient": "horizontal", "size": 22, "yOffset": 6},
      "encoding": {
        "x": {"datum": 938.5, "scale": {"domain": [0, 938], "nice": false, "zero": false}},
        "x2": {"datum": 958.5},
        "y": {"field": "p", "type": "quantitative", "title": null, "scale": {"domain": [661.25, 1144.5], "nice": false, "zero": false}},
        "color": {"field": "lv", "type": "nominal", "legend": null}
      }
    },
    {
      "data": {"name": "levels"},
      "mark": {"type": "text", "align": "left", "baseline": "middle", "yOffset": 6, "font": "Liberation Sans", "fontSize": 18, "color": "white"},
      "encoding": {
        "x": {"datum": 940.25, "scale": {"domain": [0, 938], "nice": false, "zero": false}},
        "y": {"field": "p", "type": "quantitative", "title": null, "scale": {"domain": [661.25, 1144.5], "nice": false, "zero": false}},
        "text": {"field": "p", "type": "quantitative", "format": ".2f"}
      }
    }
  ]
}
